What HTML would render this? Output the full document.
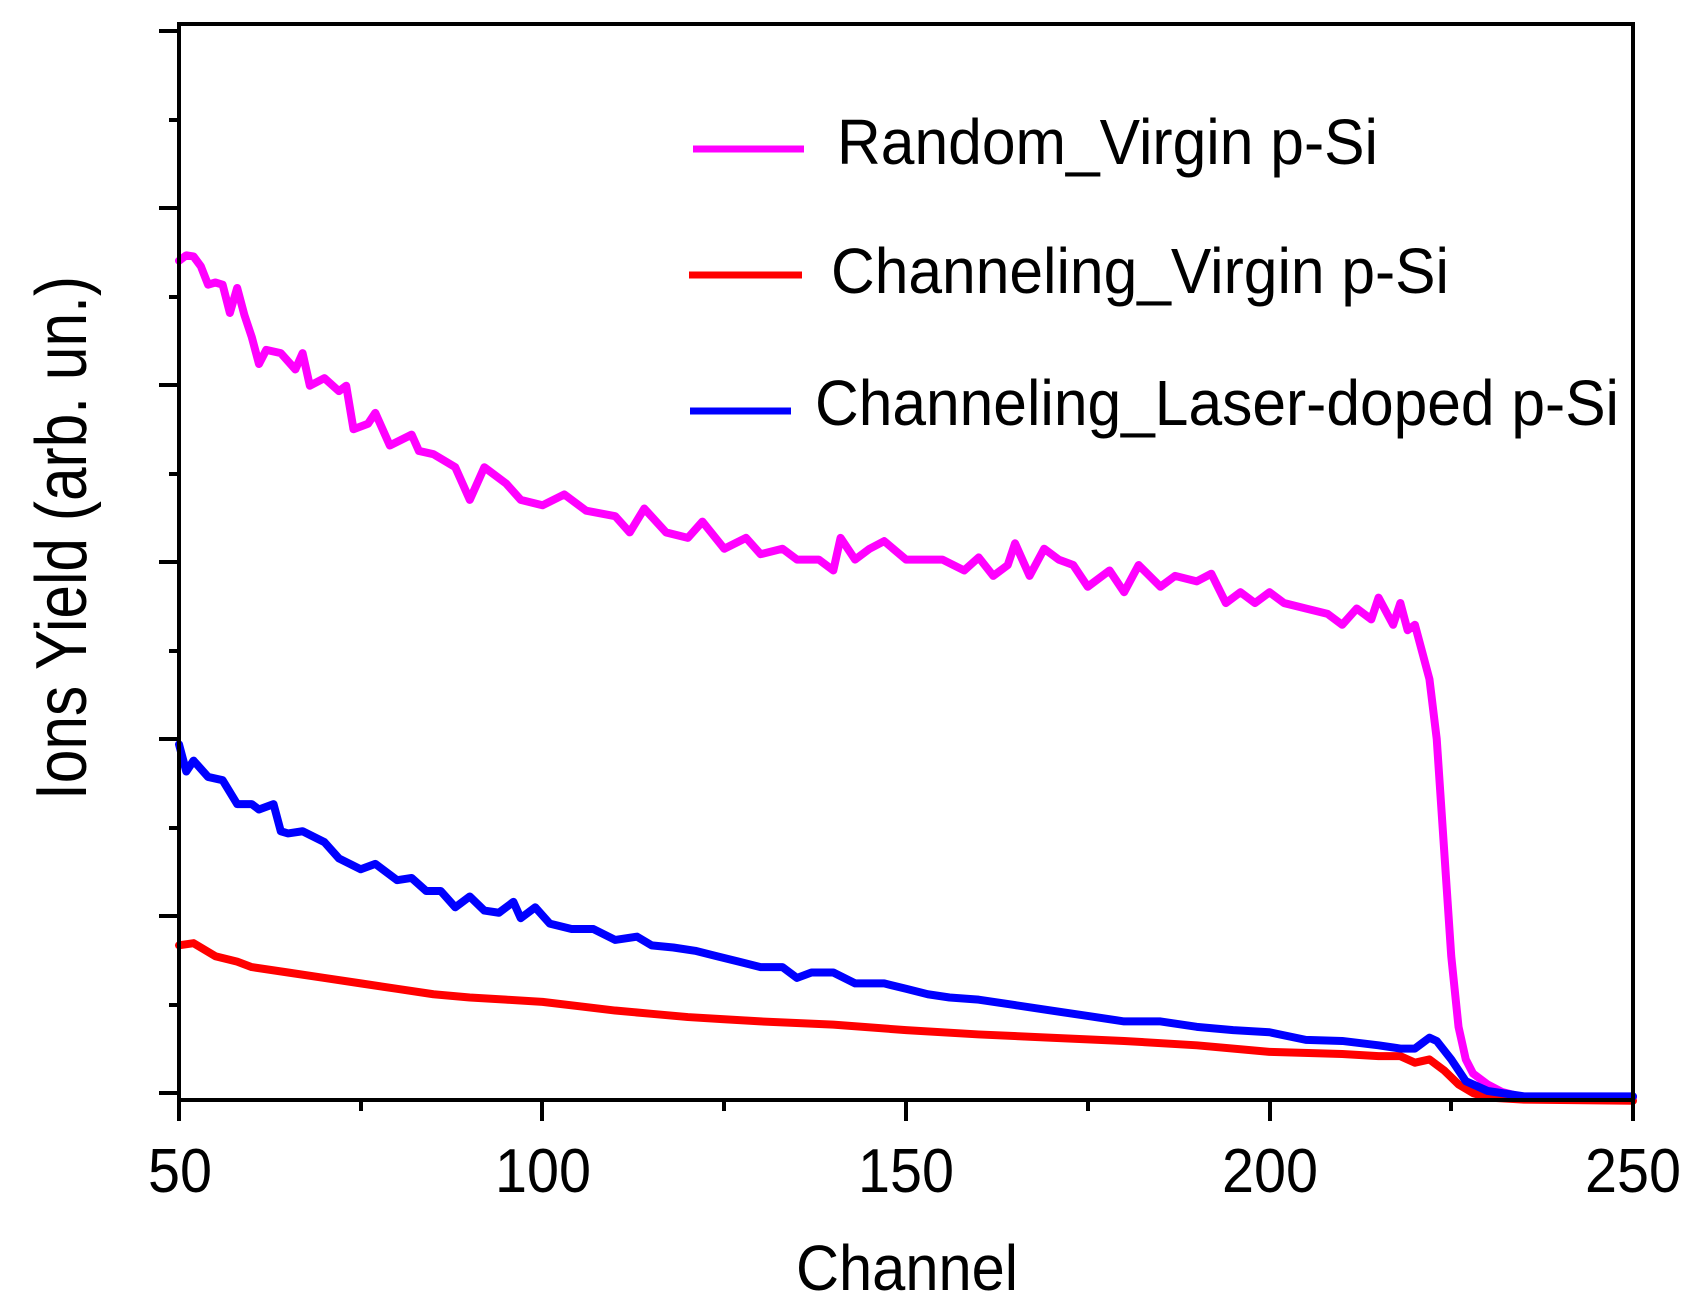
<!DOCTYPE html>
<html><head><meta charset="utf-8"><style>
html,body{margin:0;padding:0;background:#fff;}
svg{display:block;}
text{font-family:"Liberation Sans",Arial,sans-serif;fill:#000;}
</style></head><body>
<svg width="1695" height="1314" viewBox="0 0 1695 1314" xmlns="http://www.w3.org/2000/svg">
<rect width="1695" height="1314" fill="#fff"/>
<g fill="none" stroke-linejoin="round" stroke-linecap="round" transform="translate(-184.5,0) scale(7.27,1.0866)">
<polyline vector-effect="non-scaling-stroke" stroke="#ff00ff" stroke-width="8" points="50,240 51,235 52,236 53,245 54,262 55,260 56,262 57,288 58,265 59,290 60,310 61,335 62,322 64,325 66,340 67,325 68,355 70,348 72,360 73,355 74,395 76,390 77,380 79,410 82,400 83,415 85,418 88,430 90,460 92,430 95,445 97,460 100,465 103,455 106,470 110,475 112,490 114,468 117,490 120,495 122,480 125,505 128,495 130,510 133,505 135,515 138,515 140,525 141,495 143,515 145,505 147,498 150,515 155,515 158,525 160,513 162,530 164,520 165,500 167,530 169,505 171,515 173,520 175,540 178,525 180,545 182,520 185,540 187,530 190,535 192,528 194,555 196,545 198,555 200,545 202,555 205,560 208,565 210,575 212,560 214,570 215,550 217,575 218,555 219,580 220,575 221,600 222,625 223,680 224,780 225,880 226,945 227,975 228,988 230,998 232,1005 235,1010 250,1010"/>
<polyline vector-effect="non-scaling-stroke" stroke="#ff0000" stroke-width="8" points="50,870 52,868 55,880 58,885 60,890 65,895 70,900 75,905 80,910 85,915 90,918 95,920 100,922 105,926 110,930 115,933 120,936 125,938 130,940 140,943 150,948 160,952 170,955 180,958 190,962 200,968 210,970 215,972 218,972 220,978 222,975 224,985 226,998 228,1006 230,1010 235,1012 250,1013"/>
<polyline vector-effect="non-scaling-stroke" stroke="#0000ff" stroke-width="8" points="50,685 51,710 52,700 54,715 56,718 58,740 60,740 61,745 63,740 64,765 65,767 67,765 70,775 72,790 75,800 77,795 80,810 82,808 84,820 86,820 88,835 90,825 92,838 94,840 96,830 97,845 99,835 101,850 104,855 107,855 110,865 113,862 115,870 118,872 121,875 124,880 127,885 130,890 133,890 135,900 137,895 140,895 143,905 147,905 150,910 153,915 156,918 160,920 165,925 170,930 175,935 180,940 185,940 190,945 195,948 200,950 205,957 210,958 215,962 218,965 220,965 221,960 222,955 223,958 225,975 227,995 230,1004 235,1009 250,1009"/>
</g>
<rect x="179" y="24" width="1454" height="1076" fill="none" stroke="#000" stroke-width="4"/>
<g stroke="#000" stroke-width="4">
<line x1="159" y1="31" x2="179" y2="31"/><line x1="169" y1="120" x2="179" y2="120"/>
<line x1="159" y1="208" x2="179" y2="208"/><line x1="169" y1="297" x2="179" y2="297"/>
<line x1="159" y1="385" x2="179" y2="385"/><line x1="169" y1="474" x2="179" y2="474"/>
<line x1="159" y1="562" x2="179" y2="562"/><line x1="169" y1="651" x2="179" y2="651"/>
<line x1="159" y1="739" x2="179" y2="739"/><line x1="169" y1="828" x2="179" y2="828"/>
<line x1="159" y1="916" x2="179" y2="916"/><line x1="169" y1="1005" x2="179" y2="1005"/>
<line x1="159" y1="1093" x2="179" y2="1093"/>
<line x1="179" y1="1100" x2="179" y2="1121"/><line x1="361" y1="1100" x2="361" y2="1111"/>
<line x1="542" y1="1100" x2="542" y2="1121"/><line x1="724" y1="1100" x2="724" y2="1111"/>
<line x1="906" y1="1100" x2="906" y2="1121"/><line x1="1088" y1="1100" x2="1088" y2="1111"/>
<line x1="1270" y1="1100" x2="1270" y2="1121"/><line x1="1451" y1="1100" x2="1451" y2="1111"/>
<line x1="1633" y1="1100" x2="1633" y2="1121"/>
</g>
<g font-size="62">
<text x="148" y="1192" textLength="64" lengthAdjust="spacingAndGlyphs">50</text>
<text x="495" y="1192" textLength="96" lengthAdjust="spacingAndGlyphs">100</text>
<text x="858" y="1192" textLength="96" lengthAdjust="spacingAndGlyphs">150</text>
<text x="1222" y="1192" textLength="96" lengthAdjust="spacingAndGlyphs">200</text>
<text x="1585" y="1192" textLength="96" lengthAdjust="spacingAndGlyphs">250</text>
</g>
<text x="796" y="1290" font-size="64" textLength="222" lengthAdjust="spacingAndGlyphs">Channel</text>
<text transform="translate(86,538) rotate(-90)" font-size="72" text-anchor="middle" textLength="524" lengthAdjust="spacingAndGlyphs">Ions Yield (arb. un.)</text>
<line x1="693" y1="149" x2="804" y2="149" stroke="#ff00ff" stroke-width="7"/>
<line x1="689" y1="275" x2="802" y2="275" stroke="#ff0000" stroke-width="7"/>
<line x1="690" y1="411" x2="791" y2="411" stroke="#0000ff" stroke-width="7"/>
<g font-size="64">
<text x="837" y="164" textLength="541" lengthAdjust="spacingAndGlyphs">Random_Virgin p-Si</text>
<text x="831" y="293" textLength="618" lengthAdjust="spacingAndGlyphs">Channeling_Virgin p-Si</text>
<text x="815" y="425" textLength="804" lengthAdjust="spacingAndGlyphs">Channeling_Laser-doped p-Si</text>
</g>
</svg>
</body></html>
